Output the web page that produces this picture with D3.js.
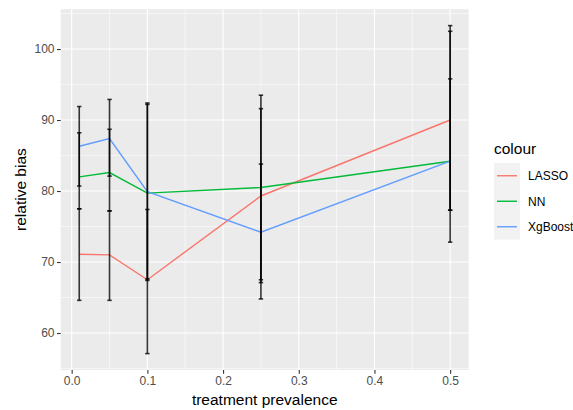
<!DOCTYPE html>
<html><head><meta charset="utf-8">
<script src="https://cdn.jsdelivr.net/npm/d3@7"></script>
<style>body{margin:0;background:#fff;} svg{display:block;font-family:"Liberation Sans",Arial,sans-serif;}</style>
</head><body>
<script>
const prevalence = [0.01, 0.05, 0.1, 0.25, 0.5];
const models = ["LASSO", "NN", "XgBoost"];
const colors = ["#F8766D", "#00BA38", "#619CFF"];
const lassoMean = [71.1, 71.0, 67.5, 79.3, 90.0];
const nnMean    = [82.0, 82.6, 79.7, 80.5, 84.2];
const xgbMean   = [86.3, 87.4, 79.9, 74.2, 84.2];
const lassoLo = [64.6, 64.6, 57.1, 67.1, 77.3];
const lassoHi = [77.5, 77.2, 77.4, 91.6, 102.5];
const nnLo    = [77.5, 77.2, 67.4, 67.5, 77.3];
const nnHi    = [88.2, 88.7, 92.2, 93.5, 103.3];
const xgbLo   = [80.7, 82.1, 67.6, 64.8, 72.8];
const xgbHi   = [91.9, 92.9, 92.4, 83.8, 95.8];
const xTicks = [0, 0.1, 0.2, 0.3, 0.4, 0.5];
const xMinor = [0.05, 0.15, 0.25, 0.35, 0.45];
const yTicks = [60, 70, 80, 90, 100];
const yMinor = [55, 65, 75, 85, 95, 105];

const series = [
  {name: models[0], color: colors[0], mean: lassoMean, lo: lassoLo, hi: lassoHi},
  {name: models[1], color: colors[1], mean: nnMean, lo: nnLo, hi: nnHi},
  {name: models[2], color: colors[2], mean: xgbMean, lo: xgbLo, hi: xgbHi}
];

const W = 573, H = 410;
const P = {l: 60.7, r: 468.7, t: 9.2, b: 370};
const svg = d3.select("body").append("svg").attr("width", W).attr("height", H);

const allVals = series.flatMap(s => s.lo.concat(s.hi));
const ymin = d3.min(allVals), ymax = d3.max(allVals);
const yr = ymax - ymin;
const xr = d3.max(prevalence) - d3.min(prevalence);
const x = d3.scaleLinear().domain([d3.min(prevalence) - 0.05 * xr, d3.max(prevalence) + 0.05 * xr]).range([P.l, P.r]);
const y = d3.scaleLinear().domain([ymin - 0.05 * yr, ymax + 0.05 * yr]).range([P.b, P.t]);

svg.append("rect").attr("x", P.l).attr("y", P.t).attr("width", P.r - P.l).attr("height", P.b - P.t).attr("fill", "#EBEBEB");

const g = svg.append("g");
g.selectAll(".ymin").data(yMinor.filter(v => y(v) >= P.t && y(v) <= P.b)).join("line")
  .attr("x1", P.l).attr("x2", P.r).attr("y1", d => y(d)).attr("y2", d => y(d))
  .attr("stroke", "#fff").attr("stroke-width", 0.55);
g.selectAll(".xmin").data(xMinor).join("line")
  .attr("y1", P.t).attr("y2", P.b).attr("x1", d => x(d)).attr("x2", d => x(d))
  .attr("stroke", "#fff").attr("stroke-width", 0.55);
g.selectAll(".ymaj").data(yTicks).join("line")
  .attr("x1", P.l).attr("x2", P.r).attr("y1", d => y(d)).attr("y2", d => y(d))
  .attr("stroke", "#fff").attr("stroke-width", 1.1);
g.selectAll(".xmaj").data(xTicks).join("line")
  .attr("y1", P.t).attr("y2", P.b).attr("x1", d => x(d)).attr("x2", d => x(d))
  .attr("stroke", "#fff").attr("stroke-width", 1.1);

// lines
const line = d3.line().x((d, i) => x(prevalence[i])).y(d => y(d));
series.forEach(s => {
  svg.append("path").attr("d", line(s.mean)).attr("fill", "none")
    .attr("stroke", s.color).attr("stroke-width", 1.4);
});

// error bars
const capW = 2.2;
series.forEach(s => {
  const eb = svg.append("g").attr("stroke", "#000").attr("stroke-width", 1.6).attr("stroke-opacity", 0.78);
  prevalence.forEach((p, i) => {
    const cx = x(p);
    eb.append("line").attr("x1", cx).attr("x2", cx).attr("y1", y(s.lo[i])).attr("y2", y(s.hi[i]));
    eb.append("line").attr("x1", cx - capW).attr("x2", cx + capW).attr("y1", y(s.lo[i])).attr("y2", y(s.lo[i]));
    eb.append("line").attr("x1", cx - capW).attr("x2", cx + capW).attr("y1", y(s.hi[i])).attr("y2", y(s.hi[i]));
  });
});

// axes
const xAxis = d3.axisBottom(x).tickValues(xTicks).tickFormat(d3.format(".1f")).tickSize(3.7).tickPadding(2.5);
const xa = svg.append("g").attr("transform", `translate(0,${P.b})`).call(xAxis);
const yAxis = d3.axisLeft(y).tickValues(yTicks).tickSize(3.7).tickPadding(2.5);
const ya = svg.append("g").attr("transform", `translate(${P.l},0)`).call(yAxis);
[xa, ya].forEach(a => {
  a.select(".domain").remove();
  a.selectAll(".tick line").attr("stroke", "#333").attr("stroke-width", 1.1);
  a.selectAll(".tick text").attr("fill", "#4D4D4D").style("font-size", "12px").style("font-family", "Liberation Sans, Arial, sans-serif");
});

svg.append("text").attr("x", (P.l + P.r) / 2).attr("y", 405).attr("text-anchor", "middle")
  .style("font-size", "15.5px").attr("fill", "#000").text("treatment prevalence");
svg.append("text").attr("transform", `translate(25.5,${(P.t + P.b) / 2}) rotate(-90)`).attr("text-anchor", "middle")
  .style("font-size", "15.5px").attr("fill", "#000").text("relative bias");

// legend
const lg = svg.append("g");
lg.append("text").attr("x", 494).attr("y", 154).style("font-size", "15.5px").text("colour");
const keyTop = 163, keyH = 25.5, keyX = 494, keyW = 26;
lg.append("rect").attr("x", keyX).attr("y", keyTop).attr("width", keyW).attr("height", keyH * models.length).attr("fill", "#F2F2F2");
series.forEach((s, i) => {
  const cy = keyTop + keyH * i + keyH / 2;
  lg.append("line").attr("x1", keyX + 3).attr("x2", keyX + keyW - 3).attr("y1", cy).attr("y2", cy)
    .attr("stroke", s.color).attr("stroke-width", 1.4);
  lg.append("text").attr("x", 528).attr("y", cy + 4.3).style("font-size", "12px").attr("fill", "#000").text(s.name);
});
</script>
</body></html>
